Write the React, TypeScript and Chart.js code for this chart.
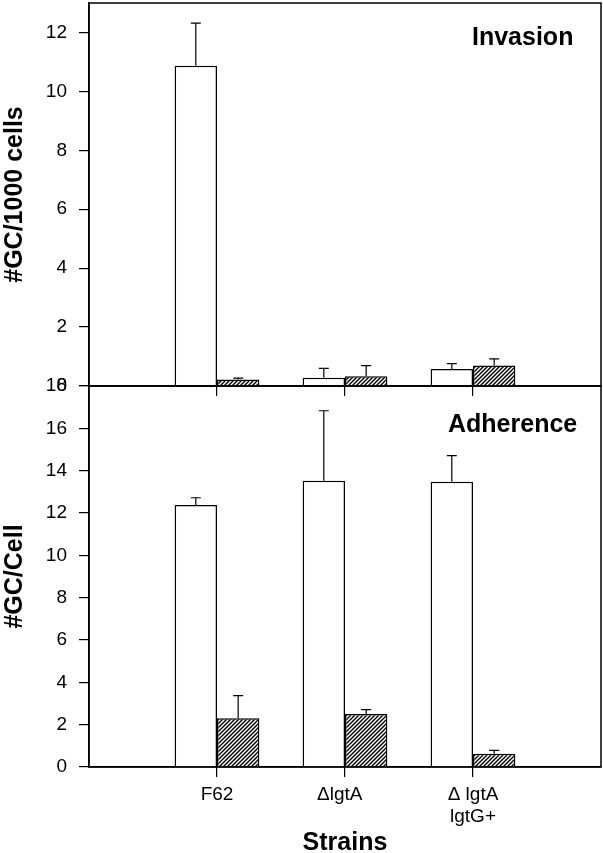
import React, { useEffect, useRef } from 'react';
import { Chart, registerables } from 'chart.js';

Chart.register(...registerables);

// ---- data ----
const categories: (string | string[])[] = ['', 'F62', 'ΔlgtA  ', ['Δ lgtA', 'lgtG+'], ''];

const invasionOpen = [null, 10.87, 0.28, 0.58, null];
const invasionOpenErr = [null, 1.45, 0.32, 0.18, null];
const invasionHatched = [null, 0.22, 0.33, 0.7, null];
const invasionHatchedErr = [null, 0.05, 0.36, 0.22, null];

const adherenceOpen = [null, 12.38, 13.52, 13.48, null];
const adherenceOpenErr = [null, 0.34, 3.31, 1.23, null];
const adherenceHatched = [null, 2.3, 2.5, 0.63, null];
const adherenceHatchedErr = [null, 1.07, 0.21, 0.16, null];

const invasionMax = 13;
const adherenceMax = 18;
const yStep = 2;

const FONT = '"Liberation Sans", Arial, Helvetica, sans-serif';
const VIEW_W = 603;
const W = 610;
const H = 883;
const SHIFT = 30;
const PAD_RIGHT = W - 601;

function makeHatch(): CanvasPattern | string {
  const c = document.createElement('canvas');
  c.width = 4;
  c.height = 4;
  const g = c.getContext('2d');
  if (!g) return '#888';
  g.fillStyle = '#fff';
  g.fillRect(0, 0, 4, 4);
  g.strokeStyle = '#000';
  g.lineWidth = 1.4;
  g.beginPath();
  g.moveTo(0, 4);
  g.lineTo(4, 0);
  g.moveTo(-1, 1);
  g.lineTo(1, -1);
  g.moveTo(3, 5);
  g.lineTo(5, 3);
  g.stroke();
  return g.createPattern(c, 'repeat') || '#888';
}

const errorBarPlugin = {
  id: 'errorBars',
  afterDatasetsDraw(chart: any) {
    const ctx = chart.ctx;
    const ys = chart.scales.y;
    ctx.save();
    ctx.strokeStyle = '#000';
    ctx.lineWidth = 1.2;
    chart.data.datasets.forEach((ds: any, i: number) => {
      const meta = chart.getDatasetMeta(i);
      meta.data.forEach((el: any, j: number) => {
        const v = ds.data[j];
        const e = ds.errors ? ds.errors[j] : null;
        if (v == null || e == null) return;
        const x = el.x;
        const y0 = ys.getPixelForValue(v);
        const y1 = ys.getPixelForValue(v + e);
        ctx.beginPath();
        ctx.moveTo(x, y0);
        ctx.lineTo(x, y1);
        ctx.moveTo(x - 5, y1);
        ctx.lineTo(x + 5, y1);
        ctx.stroke();
      });
    });
    ctx.restore();
  },
};

const framePlugin = {
  id: 'frame',
  afterDraw(chart: any, _args: any, opts: any) {
    const { ctx, chartArea } = chart;
    ctx.save();
    ctx.strokeStyle = '#000';
    ctx.lineWidth = 1.5;
    ctx.strokeRect(chartArea.left, chartArea.top, chartArea.right - chartArea.left, chartArea.bottom - chartArea.top);
    if (opts && opts.text) {
      ctx.fillStyle = '#000';
      ctx.font = `bold 25px ${FONT}`;
      ctx.textAlign = 'left';
      ctx.textBaseline = 'alphabetic';
      ctx.fillText(opts.text, chartArea.right + opts.dx, chartArea.top + opts.dy);
    }
    ctx.restore();
  },
};

function buildOptions(cfg: {
  max: number;
  padTop: number;
  padBottom: number;
  xHeight: number;
  showXLabels: boolean;
  yTitle: string;
  panel: string;
  panelDx: number;
  panelDy: number;
}) {
  return {
    responsive: false,
    animation: false as const,
    layout: { padding: { top: cfg.padTop, right: PAD_RIGHT, bottom: cfg.padBottom, left: 0 } },
    plugins: {
      legend: { display: false },
      tooltip: { enabled: false },
      frame: { text: cfg.panel, dx: cfg.panelDx, dy: cfg.panelDy },
    },
    datasets: {
      bar: { categoryPercentage: 0.662, barPercentage: 1.0 },
    },
    scales: {
      x: {
        type: 'category' as const,
        offset: false,
        grid: {
          offset: false,
          drawOnChartArea: false,
          drawTicks: true,
          tickLength: 10,
          lineWidth: 1.2,
          color: (c: any) => (c.index === 0 || c.index === categories.length - 1 ? 'rgba(0,0,0,0)' : '#000'),
        },
        border: { display: true, color: '#000', width: 1.5 },
        ticks: {
          display: cfg.showXLabels,
          autoSkip: false,
          maxRotation: 0,
          minRotation: 0,
          padding: 7,
          color: '#000',
          font: { family: FONT, size: 19, lineHeight: 1.15 },
        },
        title: {
          display: cfg.showXLabels,
          text: 'Strains',
          color: '#000',
          padding: 0,
          font: { family: FONT, size: 25, weight: 'bold' as const, lineHeight: 0.8 },
        },
        afterFit: (s: any) => {
          s.height = cfg.xHeight;
        },
      },
      y: {
        type: 'linear' as const,
        min: 0,
        max: cfg.max,
        grid: {
          drawOnChartArea: false,
          drawTicks: true,
          tickLength: 10,
          lineWidth: 1.2,
          color: '#000',
        },
        border: { display: true, color: '#000', width: 1.5 },
        ticks: {
          stepSize: yStep,
          includeBounds: false,
          padding: 12,
          color: '#000',
          font: { family: FONT, size: 19 },
        },
        title: {
          display: true,
          text: cfg.yTitle,
          color: '#000',
          padding: 0,
          font: { family: FONT, size: 25, weight: 'bold' as const, lineHeight: 1.2 },
        },
        afterFit: (s: any) => {
          s.width = 89;
        },
      },
    },
  };
}

export default function App() {
  const topRef = useRef<HTMLCanvasElement | null>(null);
  const botRef = useRef<HTMLCanvasElement | null>(null);

  useEffect(() => {
    const hatch = makeHatch();
    const charts: Chart[] = [];
    if (topRef.current) {
      charts.push(
        new Chart(topRef.current, {
          type: 'bar',
          data: {
            labels: categories as any,
            datasets: [
              {
                label: 'Open',
                data: invasionOpen as any,
                errors: invasionOpenErr,
                backgroundColor: '#fff',
                borderColor: '#000',
                borderWidth: 1.5,
              } as any,
              {
                label: 'Hatched',
                data: invasionHatched as any,
                errors: invasionHatchedErr,
                backgroundColor: hatch,
                borderColor: '#000',
                borderWidth: 1.5,
              } as any,
            ],
          },
          options: buildOptions({
            max: invasionMax,
            padTop: 3 + SHIFT,
            padBottom: H - (386 + SHIFT) - 14,
            xHeight: 14,
            showXLabels: false,
            yTitle: '#GC/1000 cells',
            panel: 'Invasion',
            panelDx: -129,
            panelDy: 42,
          }) as any,
          plugins: [errorBarPlugin, framePlugin],
        })
      );
    }
    if (botRef.current) {
      charts.push(
        new Chart(botRef.current, {
          type: 'bar',
          data: {
            labels: categories as any,
            datasets: [
              {
                label: 'Open',
                data: adherenceOpen as any,
                errors: adherenceOpenErr,
                backgroundColor: '#fff',
                borderColor: '#000',
                borderWidth: 1.5,
              } as any,
              {
                label: 'Hatched',
                data: adherenceHatched as any,
                errors: adherenceHatchedErr,
                backgroundColor: hatch,
                borderColor: '#000',
                borderWidth: 1.5,
              } as any,
            ],
          },
          options: buildOptions({
            max: adherenceMax,
            padTop: 386 + SHIFT,
            padBottom: 0,
            xHeight: H - (767 + SHIFT),
            showXLabels: true,
            yTitle: '#GC/Cell',
            panel: 'Adherence',
            panelDx: -153,
            panelDy: 46,
          }) as any,
          plugins: [errorBarPlugin, framePlugin],
        })
      );
    }
    return () => {
      charts.forEach((c) => c.destroy());
    };
  }, []);

  return (
    <div
      style={{
        position: 'absolute',
        left: 0,
        top: -SHIFT,
        width: VIEW_W,
        height: H,
        overflow: 'hidden',
        background: '#fff',
      }}
    >
      <canvas ref={topRef} width={W} height={H} style={{ position: 'absolute', left: 0, top: 0 }} />
      <canvas ref={botRef} width={W} height={H} style={{ position: 'absolute', left: 0, top: 0 }} />
    </div>
  );
}
